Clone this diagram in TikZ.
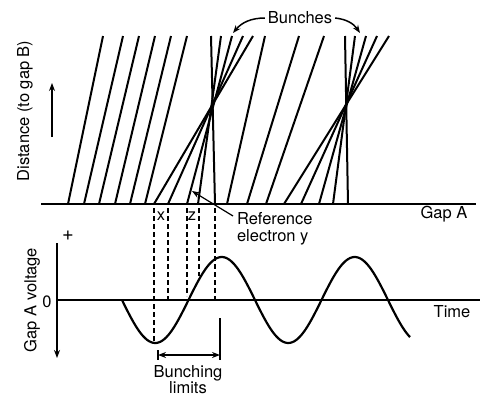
\documentclass[tikz,border=0pt]{standalone}
\usepackage{fontspec}
\setmainfont{TeX Gyre Heros}
\usetikzlibrary{arrows.meta}
\begin{document}
\begin{tikzpicture}[x=1pt,y=-1pt, line width=2pt,
  lbl/.style={font=\fontsize{16.5}{17}\selectfont, inner sep=0pt},
  dashln/.style={line width=1.4pt, dash pattern=on 5pt off 3pt},
  tipA/.style={-{Stealth[length=8pt,width=6pt]}},
  thinln/.style={line width=1.5pt}]
\useasboundingbox (0,0) rectangle (480,397);
% Gap A line
\coordinate (gl) at (41,204);
\coordinate (gr) at (476,204);
\draw (gl) -- (gr);
% parallel (unbunched) electron paths
\foreach \b/\t in {68/103,84/123,99/139,115/155,130/171,145/187,227/265,247/299,266/324}
  \draw (\b,204) -- (\t,36);
% first bunch
\foreach \b/\t in {154/253,168/243,187/232,198/221,215/211}
  \draw (\b,204) -- (\t,36);
% second bunch
\foreach \b/\t in {284/389,301/377,319/366,333/355,348/345}
  \draw (\b,204) -- (\t,36);
% Bunches label
\node[lbl] (bun) at (300,18) {Bunches};
\draw[tipA, thinln] ([xshift=-2pt]bun.west) to[bend right=25] (233,33);
\draw[tipA, thinln] ([xshift=2pt]bun.east) to[bend left=25] (360,33);
% Distance axis
\node[lbl, rotate=90] (dist) at (25,111) {Distance (to gap B)};
\coordinate (da1) at (52,137);
\coordinate (da2) at (52,83);
\draw[tipA, thinln] (da1) -- (da2);
% Gap A label
\node[lbl] (gapa) at (444,214) {Gap A};
% voltage axes
\coordinate (va1) at (57,243);
\coordinate (va2) at (57,358);
\draw[tipA, thinln] (va1) -- (va2);
\coordinate (z0) at (57,300);
\coordinate (z1) at (480,300);
\draw[thinln] (z0) -- (z1);
\node[lbl, font=\fontsize{20}{20}\selectfont] (plus) at (68,236) {+};
\node[lbl] (zero) at (47,302) {0};
\node[lbl, rotate=90] (gav) at (32,300) {Gap A voltage};
\node[lbl] (time) at (452,312) {Time};
% sine wave
\draw[line width=2.2pt] plot[domain=122:410, samples=150, smooth] (\x,{300+43*sin(2.7068*(\x-122))});
% dashed projections
\draw[dashln] (154,208) -- (154,343);
\draw[dashln] (168,208) -- (168,300);
\draw[dashln] (187,208) -- (187,296);
\draw[dashln] (199,208) -- (199,276);
\draw[dashln] (215,208) -- (215,300);
\node[lbl] (lx) at (161,216) {x};
\node[lbl] (lz) at (192,216) {z};
% reference electron
\node[lbl, align=left, anchor=north west] (ref) at (236,211) {Reference\\electron y};
\draw[tipA, line width=1.2pt] (233,216) -- (192,191);
% bunching limits
\draw[thinln] (158,350) -- (158,360);
\draw[thinln] (220,318) -- (220,360);
\draw[thinln, {Stealth[length=8pt,width=6pt]}-{Stealth[length=8pt,width=6pt]}] (158,355) -- (220,355);
\node[lbl] (bl1) at (188,373) {Bunching};
\node[lbl] (bl2) at (188,388) {limits};
\end{tikzpicture}
\end{document}
